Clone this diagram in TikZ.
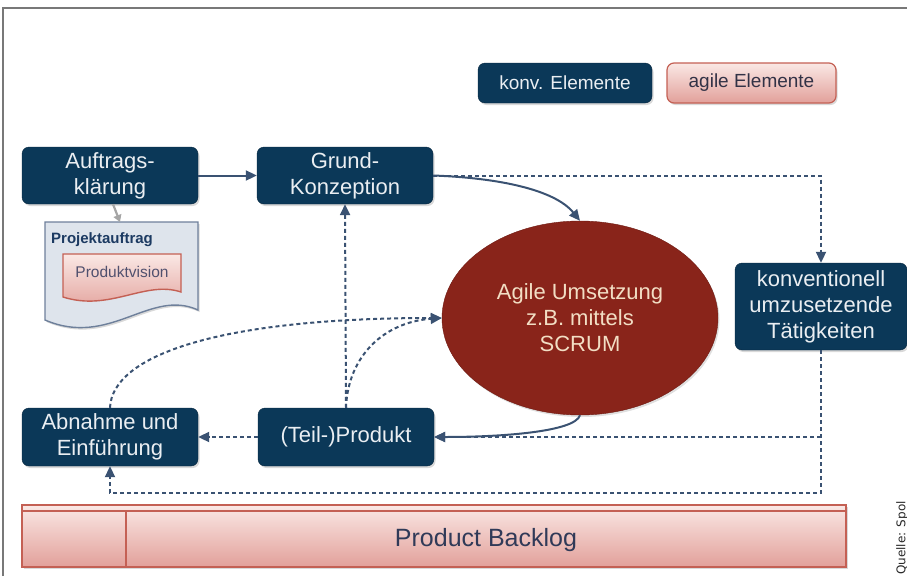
\documentclass[tikz,border=0pt]{standalone}
\usepackage{fontspec}
\setmainfont{Liberation Sans}
\newfontfamily\notefont{DejaVu Sans}
\usetikzlibrary{arrows.meta,shapes.geometric,shadows}

\definecolor{navy}{RGB}{11,56,88}
\definecolor{navyedge}{RGB}{6,38,62}
\definecolor{navytext}{RGB}{234,238,242}
\definecolor{flow}{RGB}{58,82,114}
\definecolor{scrum}{RGB}{137,36,26}
\definecolor{scrumedge}{RGB}{110,26,18}
\definecolor{scrumtext}{RGB}{242,222,196}
\definecolor{pinklight}{RGB}{250,232,229}
\definecolor{pinkdark}{RGB}{226,160,154}
\definecolor{pinkedge}{RGB}{196,96,84}
\definecolor{pinktext}{RGB}{50,50,70}
\definecolor{docfill}{RGB}{222,228,236}
\definecolor{docedge}{RGB}{110,128,155}
\definecolor{doctitle}{RGB}{28,58,98}
\definecolor{visiontext}{RGB}{80,80,110}
\definecolor{backlogtext}{RGB}{48,58,88}
\definecolor{handoff}{RGB}{165,165,165}
\definecolor{notetext}{RGB}{40,40,40}
\definecolor{frame}{RGB}{120,120,120}

\tikzset{
  navybox/.style={rectangle, rounded corners=7pt, fill=navy, draw=navyedge,
    text=navytext, align=center, inner sep=0pt,
    font=\fontsize{22}{26}\selectfont,
    drop shadow={shadow xshift=1.5pt, shadow yshift=-2pt, opacity=0.3}},
  pinkshade/.style={top color=pinklight, bottom color=pinkdark},
  pinkbox/.style={rectangle, rounded corners=7pt, pinkshade, draw=pinkedge,
    line width=1.2pt, text=pinktext, inner sep=0pt,
    drop shadow={shadow xshift=1.5pt, shadow yshift=-2pt, opacity=0.3}},
  solidflow/.style={draw=flow, line width=2pt, -{Triangle[length=11pt,width=10pt]}},
  dashflow/.style={draw=flow, line width=2pt, dash pattern=on 4pt off 3pt,
    -{Triangle[length=11pt,width=10pt]}},
}

\begin{document}
\begin{tikzpicture}[x=1pt,y=-1pt]
\useasboundingbox (0,0) rectangle (907,576);
\clip (0,0) rectangle (907,576);

% outer frame (top and left edges)
\draw[frame, line width=1.2pt] (3,576) -- (3,8) -- (907,8);

% legend
\node[navybox, minimum width=174pt, minimum height=40pt,
  font=\fontsize{19}{22}\selectfont] (legconv) at (565,83) {konv. Elemente};
\node[pinkbox, minimum width=169pt, minimum height=40pt,
  font=\fontsize{19}{22}\selectfont] (legagile) at (751.5,83) {agile Elemente};

% process boxes
\node[navybox, minimum width=176pt, minimum height=57pt] (auftrag) at (110,175.5) {Auftrags-\\klärung};
\node[navybox, minimum width=176pt, minimum height=57pt] (grund) at (345,175.5) {Grund-\\Konzeption};
\node[navybox, minimum width=176pt, minimum height=58pt] (abnahme) at (110,437) {Abnahme und\\Einführung};
\node[navybox, minimum width=176pt, minimum height=58pt] (teil) at (346,437) {(Teil-)Produkt};
\node[navybox, minimum width=172pt, minimum height=87pt] (konv) at (821,306.5) {konventionell\\umzusetzende\\Tätigkeiten};

% agile core
\node[ellipse, fill=scrum, draw=scrumedge, minimum width=276pt,
  minimum height=194pt, inner sep=0pt, text=scrumtext, align=center,
  font=\fontsize{22}{26}\selectfont,
  drop shadow={shadow xshift=1.5pt, shadow yshift=-2pt, opacity=0.25}] (ell) at (580,318)
  {Agile Umsetzung\\z.B. mittels\\SCRUM};

% project order document with product vision inside
\draw[docedge, fill=docfill, line width=1.4pt,
  drop shadow={shadow xshift=1.5pt, shadow yshift=-2pt, opacity=0.3}]
  (45,222) -- (198,222) -- (198,310)
  .. controls (150,288) and (110,348) .. (45,320) -- cycle;
\node[anchor=west, inner sep=0pt, text=doctitle,
  font=\fontsize{15}{18}\selectfont\bfseries] (projekt) at (51,240) {Projektauftrag};
\draw[pinkedge, pinkshade, line width=1.4pt]
  (63,254) -- (181,254) -- (181,292)
  .. controls (145,280) and (110,312) .. (63,297) -- cycle;
\node[inner sep=0pt, text=visiontext,
  font=\fontsize{15.5}{18}\selectfont] (vision) at (122,272) {Produktvision};
\coordinate (doctop) at (120,222);

% product backlog bar
\draw[pinkedge, pinkshade, line width=1.4pt,
  drop shadow={shadow xshift=1.5pt, shadow yshift=-2pt, opacity=0.3}]
  (22,505) rectangle (846,567);
\draw[pinkedge, line width=1.4pt] (22,511) -- (846,511);
\draw[pinkedge, line width=1.4pt] (126,511) -- (126,567);
\node[text=backlogtext, font=\fontsize{25}{30}\selectfont,
  inner sep=0pt] (backlog) at (486,540) {Product Backlog};

% connectors
\draw[handoff, line width=2.2pt, -{Triangle[length=7pt,width=8pt]}]
  (auftrag.south) ++(3,0) -- (doctop);
\draw[solidflow] (auftrag.east) -- (grund.west);
\draw[solidflow] (grund.east) .. controls (500,178) and (555,190) .. (ell.north);
\draw[dashflow] (grund.east) -| (konv.north);
\draw[dashflow] (konv.south) -- ++(0,143) -| (abnahme.south);
\draw[dashflow] (konv.south |- teil.east) -- (teil.east);
\draw[solidflow] (ell.south) .. controls (575,432) and (500,437) .. (teil.east);
\draw[dashflow] (teil.west) -- (abnahme.east);
\draw[dashflow] (teil.north) -- (grund.south);
\draw[dashflow] (teil.north) .. controls (348,355) and (385,322) .. (ell.west);
\draw[dashflow] (abnahme.north) .. controls (112,355) and (220,318) .. (ell.west);

% source note
\node[rotate=90, anchor=south, inner sep=0pt, text=notetext,
  font=\notefont\fontsize{12}{14}\selectfont] (quelle) at (908,538) {Quelle: Spol};
\end{tikzpicture}
\end{document}
